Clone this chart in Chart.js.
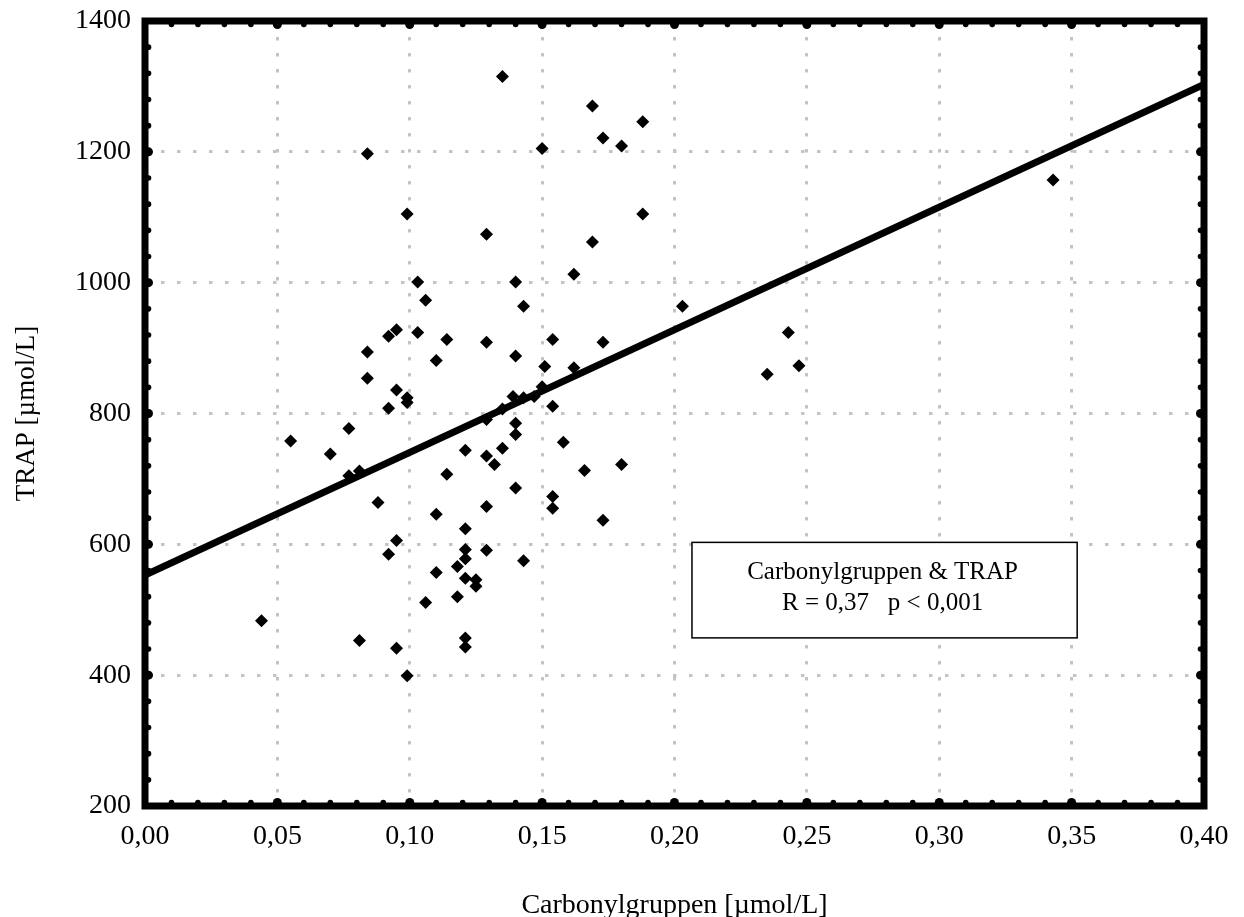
<!DOCTYPE html>
<html>
<head>
<meta charset="utf-8">
<title>Carbonylgruppen & TRAP</title>
<script src="https://cdn.jsdelivr.net/npm/chart.js@4.4.1/dist/chart.umd.min.js"></script>
<style>
    html, body { margin: 0; padding: 0; background: #fff; }
    #wrap { width: 1244px; height: 917px; }
</style>
</head>
<body>
<div id="wrap"><canvas id="chart"></canvas></div>
<script>
// Valeurs : Carbonylgruppen (µmol/L) et TRAP (µmol/L)
const carbonyl = [
    0.135, 0.169, 0.188, 0.150, 0.173, 0.180, 0.084, 0.099, 0.129, 0.188,
    0.169, 0.162, 0.103, 0.140, 0.106, 0.143, 0.203, 0.095, 0.092, 0.103,
    0.114, 0.129, 0.154, 0.173, 0.084, 0.110, 0.140, 0.151, 0.162, 0.084,
    0.095, 0.099, 0.099, 0.092, 0.077, 0.070, 0.077, 0.081, 0.088, 0.139,
    0.143, 0.147, 0.150, 0.154, 0.135, 0.129, 0.140, 0.140, 0.158, 0.121,
    0.129, 0.132, 0.135, 0.114, 0.166, 0.180, 0.140, 0.129, 0.110, 0.121,
    0.154, 0.154, 0.173, 0.095, 0.092, 0.121, 0.121, 0.129, 0.118, 0.110,
    0.143, 0.121, 0.125, 0.125, 0.118, 0.106, 0.081, 0.095, 0.121, 0.121,
    0.099, 0.243, 0.235, 0.247, 0.343, 0.055, 0.044
];
const trap = [
    1315, 1270, 1246, 1205, 1221, 1209, 1197, 1105, 1074, 1105,
    1062, 1013, 1001, 1001, 973, 964, 964, 928, 918, 924,
    913, 909, 913, 909, 894, 881, 888, 872, 870, 854,
    836, 824, 817, 808, 777, 738, 705, 712, 664, 826,
    824, 826, 841, 811, 807, 791, 785, 768, 756, 744,
    735, 722, 747, 707, 713, 722, 686, 658, 646, 624,
    673, 655, 637, 606, 585, 592, 578, 591, 566, 557,
    575, 548, 546, 536, 520, 511, 453, 441, 457, 443,
    399, 924, 860, 873, 1157, 758, 483
];

// Droite de régression
const regX = [0, 0.40];
const regY = [553, 1303];

// Étiquettes des axes
const xTickLabels = ['0,00', '0,05', '0,10', '0,15', '0,20', '0,25', '0,30', '0,35', '0,40'];
const yTickLabels = ['200', '400', '600', '800', '1000', '1200', '1400'];

// Texte de l'encadré
const boxLines = ['Carbonylgruppen & TRAP', 'R = 0,37   p < 0,001'];

const FONT = '"Liberation Serif", "Times New Roman", serif';

// Cadre épais, graduations en points et encadré de corrélation
const framePlugin = {
    id: 'frame',
    afterDatasetsDraw(chart) {
        const ctx = chart.ctx;
        const a = chart.chartArea;
        const xs = chart.scales.x;
        const ys = chart.scales.y;
        ctx.save();

        // encadré
        const bx1 = xs.getPixelForValue(0.2066);
        const bx2 = xs.getPixelForValue(0.3521);
        const by1 = ys.getPixelForValue(603);
        const by2 = ys.getPixelForValue(457);
        ctx.fillStyle = '#fff';
        ctx.fillRect(bx1, by1, bx2 - bx1, by2 - by1);
        ctx.lineWidth = 1.5;
        ctx.strokeStyle = '#000';
        ctx.strokeRect(bx1, by1, bx2 - bx1, by2 - by1);
        ctx.fillStyle = '#000';
        ctx.font = '25px ' + FONT;
        ctx.textAlign = 'center';
        ctx.textBaseline = 'alphabetic';
        const cx = (bx1 + bx2) / 2 - 2;
        ctx.fillText(boxLines[0], cx, by1 + 37);
        ctx.fillText(boxLines[1], cx, by1 + 68);

        // cadre
        ctx.lineWidth = 7;
        ctx.strokeRect(a.left, a.top, a.right - a.left, a.bottom - a.top);

        // graduations
        function dot(px, py, r) {
            ctx.beginPath();
            ctx.arc(px, py, r, 0, Math.PI * 2);
            ctx.fill();
        }
        for (let i = 1; i < 40; i++) {
            const px = xs.getPixelForValue(i / 100);
            const r = i % 5 === 0 ? 4.5 : 2.8;
            dot(px, a.bottom - 3.5, r);
            dot(px, a.top + 3.5, r);
        }
        for (let i = 1; i < 30; i++) {
            const py = ys.getPixelForValue(200 + i * 40);
            const r = i % 5 === 0 ? 4.5 : 2.8;
            dot(a.left + 3.5, py, r);
            dot(a.right - 3.5, py, r);
        }
        ctx.restore();
    }
};

const points = carbonyl.map((v, i) => ({ x: v, y: trap[i] }));
const regression = regX.map((v, i) => ({ x: v, y: regY[i] }));

new Chart(document.getElementById('chart'), {
    type: 'scatter',
    data: {
        datasets: [{
            label: 'Régression',
            data: regression,
            showLine: true,
            borderColor: '#000',
            borderWidth: 7,
            pointRadius: 0
        }, {
            label: 'Carbonylgruppen & TRAP',
            data: points,
            pointStyle: 'rectRot',
            pointRadius: 6.5,
            backgroundColor: '#000',
            borderWidth: 0
        }]
    },
    options: {
        responsive: true,
        maintainAspectRatio: false,
        animation: false,
        layout: {
            padding: { top: 21, right: 40, bottom: 0, left: 0 }
        },
        plugins: {
            legend: { display: false },
            tooltip: { enabled: false }
        },
        scales: {
            x: {
                type: 'linear',
                min: 0,
                max: 0.4,
                afterFit: function(scale) {
                    scale.height = 111;
                    scale.paddingLeft = 0;
                    scale.paddingRight = 0;
                },
                grid: { color: '#c4c4c4', lineWidth: 3, drawTicks: false },
                border: { display: false, dash: [3.5, 12.5] },
                ticks: {
                    stepSize: 0.05,
                    padding: 14,
                    color: '#000',
                    font: { family: FONT, size: 28 },
                    callback: function(value, index) { return xTickLabels[index]; }
                },
                title: {
                    display: true,
                    text: 'Carbonylgruppen [µmol/L]',
                    color: '#000',
                    font: { family: FONT, size: 28, lineHeight: 0.8 },
                    padding: { top: 0, bottom: 0 }
                }
            },
            y: {
                min: 200,
                max: 1400,
                afterFit: function(scale) {
                    scale.width = 145;
                    scale.paddingTop = 0;
                    scale.paddingBottom = 0;
                },
                grid: { color: '#c4c4c4', lineWidth: 3, drawTicks: false },
                border: { display: false, dash: [3.5, 12.5] },
                ticks: {
                    stepSize: 200,
                    padding: 14,
                    color: '#000',
                    font: { family: FONT, size: 28 },
                    callback: function(value, index) { return yTickLabels[index]; }
                },
                title: {
                    display: true,
                    text: 'TRAP [µmol/L]',
                    color: '#000',
                    font: { family: FONT, size: 27, lineHeight: 1 },
                    padding: { top: 13, bottom: 0 }
                }
            }
        }
    },
    plugins: [framePlugin]
});
</script>
</body>
</html>
